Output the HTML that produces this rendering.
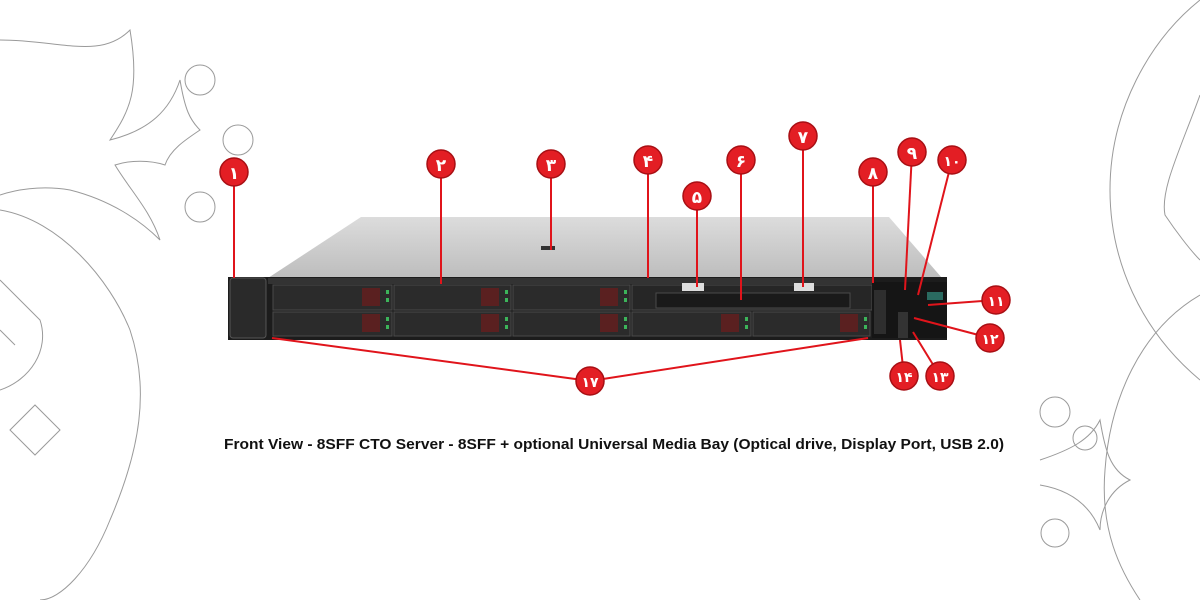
<!DOCTYPE html>
<html><head><meta charset="utf-8"><style>
html,body{margin:0;padding:0;background:#fff;width:1200px;height:600px;overflow:hidden}
svg{display:block}
</style></head><body>
<svg width="1200" height="600" viewBox="0 0 1200 600" xmlns="http://www.w3.org/2000/svg">
<defs><linearGradient id="tg" x1="0" y1="0" x2="0" y2="1"><stop offset="0" stop-color="#dcdcdc"/><stop offset="1" stop-color="#bdbdbd"/></linearGradient></defs>
<g fill="none" stroke="#9a9a9a" stroke-width="1">
<path d="M0 40 C60 40 100 60 130 30 C140 90 130 110 110 140 C150 130 170 110 180 80 C185 110 190 120 200 130 C185 140 170 150 165 165 C150 160 130 160 115 165 C130 190 150 210 160 240 C140 220 110 200 70 190 C40 185 15 190 0 195"/>
<path d="M0 210 C60 220 110 280 130 330 C150 390 140 450 110 520 C90 570 60 600 40 600"/>
<path d="M0 280 L40 320 C50 350 30 380 0 390"/>
<path d="M10 430 L35 405 L60 430 L35 455 Z"/>
<path d="M0 330 L15 345"/>
<circle cx="200" cy="80" r="15"/><circle cx="238" cy="140" r="15"/><circle cx="200" cy="207" r="15"/>
<path d="M1200 0 C1150 40 1110 110 1110 190 C1110 260 1140 330 1200 380"/>
<path d="M1200 95 C1180 150 1160 190 1165 215 C1175 230 1190 250 1200 260"/>
<path d="M1200 295 C1140 330 1110 400 1105 470 C1100 530 1120 570 1140 600"/>
<path d="M1040 460 C1070 450 1090 440 1100 420 C1105 450 1110 470 1130 480 C1110 490 1100 510 1100 530 C1090 505 1070 490 1040 485"/>
<circle cx="1055" cy="412" r="15"/><circle cx="1085" cy="438" r="12"/><circle cx="1055" cy="533" r="14"/>
</g>
<polygon points="361,217 889,217 942,278 268,278" fill="url(#tg)"/>
<rect x="541" y="246" width="14" height="4" fill="#333"/>
<rect x="228" y="277" width="719" height="63" fill="#1c1c1c"/>
<rect x="230" y="278" width="36" height="60" rx="3" fill="#2a2a2a" stroke="#555"/>
<rect x="268" y="278" width="604" height="6" fill="#333"/>
<g fill="#2b2b2b" stroke="#4a4a4a">
<rect x="273" y="285" width="119" height="25"/><rect x="394" y="285" width="117" height="25"/><rect x="513" y="285" width="117" height="25"/>
<rect x="273" y="312" width="119" height="24"/><rect x="394" y="312" width="117" height="24"/><rect x="513" y="312" width="117" height="24"/>
<rect x="632" y="312" width="119" height="24"/><rect x="753" y="312" width="117" height="24"/>
<rect x="632" y="285" width="240" height="25" fill="#262626"/>
<rect x="656" y="293" width="194" height="15" fill="#1a1a1a"/>
</g>
<g fill="#3cb45a">
<rect x="386" y="290" width="3" height="4"/><rect x="386" y="298" width="3" height="4"/>
<rect x="505" y="290" width="3" height="4"/><rect x="505" y="298" width="3" height="4"/>
<rect x="624" y="290" width="3" height="4"/><rect x="624" y="298" width="3" height="4"/>
<rect x="386" y="317" width="3" height="4"/><rect x="386" y="325" width="3" height="4"/>
<rect x="505" y="317" width="3" height="4"/><rect x="505" y="325" width="3" height="4"/>
<rect x="624" y="317" width="3" height="4"/><rect x="624" y="325" width="3" height="4"/>
<rect x="745" y="317" width="3" height="4"/><rect x="745" y="325" width="3" height="4"/>
<rect x="864" y="317" width="3" height="4"/><rect x="864" y="325" width="3" height="4"/>
<rect x="915" y="291" width="6" height="6"/><rect x="915" y="302" width="10" height="6"/>
</g>
<g fill="#5a2020"><rect x="362" y="288" width="18" height="18"/><rect x="481" y="288" width="18" height="18"/><rect x="600" y="288" width="18" height="18"/>
<rect x="362" y="314" width="18" height="18"/><rect x="481" y="314" width="18" height="18"/><rect x="600" y="314" width="18" height="18"/>
<rect x="721" y="314" width="18" height="18"/><rect x="840" y="314" width="18" height="18"/></g>
<rect x="682" y="283" width="22" height="8" fill="#ddd"/><rect x="794" y="283" width="20" height="8" fill="#ddd"/>
<rect x="872" y="282" width="75" height="56" fill="#151515"/>
<rect x="874" y="290" width="12" height="44" fill="#2e2e2e"/>
<rect x="898" y="312" width="10" height="26" fill="#333"/>
<rect x="927" y="292" width="16" height="8" fill="#2a6a60"/>
<g stroke="#e0141b" stroke-width="2" fill="none">
<path d="M234 172 V278"/><path d="M441 164 V284"/><path d="M551 164 V250"/><path d="M648 160 V278"/>
<path d="M697 196 V287"/><path d="M741 160 V300"/><path d="M803 136 V287"/><path d="M873 172 V283"/>
<path d="M912 152 L905 290"/><path d="M952 160 L918 295"/><path d="M996 300 L928 305"/>
<path d="M990 338 L914 318"/><path d="M940 376 L913 332"/><path d="M904 376 L900 340"/>
<path d="M590 381 L272 338"/><path d="M590 381 L868 338"/>
</g>
<g fill="#e31e24" stroke="#a80f14" stroke-width="1.5">
<circle cx="234" cy="172" r="14"/><circle cx="441" cy="164" r="14"/><circle cx="551" cy="164" r="14"/><circle cx="648" cy="160" r="14"/>
<circle cx="697" cy="196" r="14"/><circle cx="741" cy="160" r="14"/><circle cx="803" cy="136" r="14"/><circle cx="873" cy="172" r="14"/>
<circle cx="912" cy="152" r="14"/><circle cx="952" cy="160" r="14"/><circle cx="996" cy="300" r="14"/><circle cx="990" cy="338" r="14"/>
<circle cx="940" cy="376" r="14"/><circle cx="904" cy="376" r="14"/><circle cx="590" cy="381" r="14"/>
</g>
<g fill="#fff" font-family="'DejaVu Sans',sans-serif" font-weight="bold" font-size="17" text-anchor="middle">
<text x="234" y="179">١</text><text x="441" y="171">٢</text><text x="551" y="171">٣</text><text x="648" y="167">۴</text>
<text x="697" y="203">۵</text><text x="741" y="167">۶</text><text x="803" y="143">٧</text><text x="873" y="179">٨</text>
<text x="912" y="159">٩</text><text x="952" y="166" font-size="14">١٠</text><text x="996" y="306" font-size="14">١١</text><text x="990" y="344" font-size="14">١٢</text>
<text x="940" y="382" font-size="14">١٣</text><text x="904" y="382" font-size="14">١۴</text><text x="590" y="387" font-size="14">١٧</text>
</g>
<text x="614" y="449" text-anchor="middle" textLength="780" lengthAdjust="spacingAndGlyphs" font-family="'Liberation Sans',sans-serif" font-weight="bold" font-size="15" fill="#111">Front View - 8SFF CTO Server - 8SFF + optional Universal Media Bay (Optical drive, Display Port, USB 2.0)</text>
</svg>
</body></html>
